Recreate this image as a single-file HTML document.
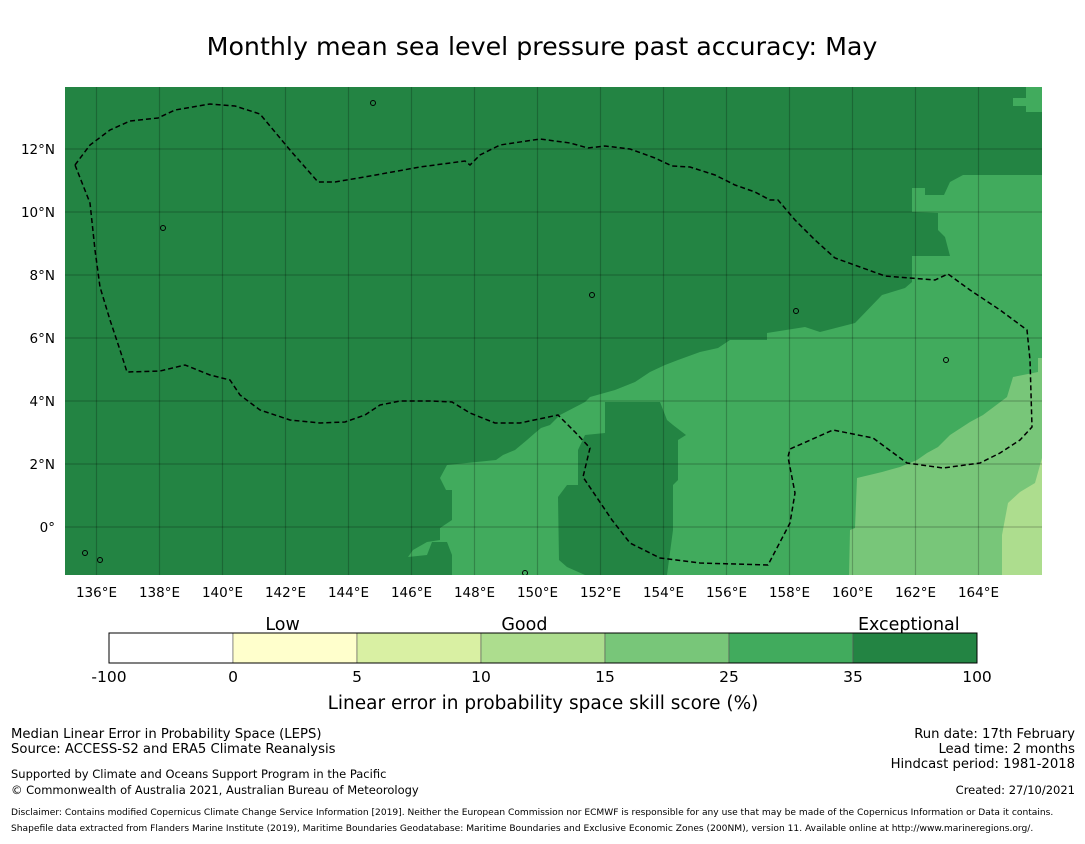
<!DOCTYPE html>
<html><head><meta charset="utf-8"><style>
body{margin:0;background:#fff;width:1085px;height:839px;overflow:hidden;font-family:"Liberation Sans","DejaVu Sans",sans-serif;}
svg text{font-family:"DejaVu Sans","Liberation Sans",sans-serif;}
</style></head><body>
<svg id="s" width="1085" height="839">
<text x="542" y="55" font-size="25.3" text-anchor="middle">Monthly mean sea level pressure past accuracy: May</text>
<g id="map"></g>
<g id="cb"></g>
<g font-size="13.2">
<text x="11" y="738">Median Linear Error in Probability Space (LEPS)</text>
<text x="11" y="753">Source: ACCESS-S2 and ERA5 Climate Reanalysis</text>
<text x="11" y="778" font-size="11.5">Supported by Climate and Oceans Support Program in the Pacific</text>
<text x="11" y="794" font-size="11.5">© Commonwealth of Australia 2021, Australian Bureau of Meteorology</text>
<text x="1075" y="738" text-anchor="end">Run date: 17th February</text>
<text x="1075" y="753" text-anchor="end">Lead time: 2 months</text>
<text x="1075" y="768" text-anchor="end">Hindcast period: 1981-2018</text>
<text x="1075" y="794" text-anchor="end" font-size="11.5">Created: 27/10/2021</text>
<text x="11" y="815" font-size="9.1">Disclaimer: Contains modified Copernicus Climate Change Service Information [2019]. Neither the European Commission nor ECMWF is responsible for any use that may be made of the Copernicus Information or Data it contains.</text>
<text x="11" y="831" font-size="9.1">Shapefile data extracted from Flanders Marine Institute (2019), Maritime Boundaries Geodatabase: Maritime Boundaries and Exclusive Economic Zones (200NM), version 11. Available online at http://www.marineregions.org/.</text>
</g>
</svg>
<script>
const lonTicks=[136,138,140,142,144,146,148,150,152,154,156,158,160,162,164];
const latTicks=[0,2,4,6,8,10,12];
const cbBounds=["-100","0","5","10","15","25","35","100"];
const cbColors=["#ffffff","#ffffcc","#d9f0a3","#addd8e","#78c679","#41ab5d","#238443"];
const cbCats=["Low","Good","Exceptional"];
const cbCatPos=[1.4,3.35,6.45];
const medTop=[[1013,98],[1013,106],[1026,106],[1026,112],[1042,112],[1042,87],[1026,87],[1026,98]];
const medMain=[[1042,175],[963,175],[950,182],[944,195],[925,195],[925,188],[912,188],[912,212],[938,213],[938,230],[945,237],[950,256],[912,256],[912,282],[905,288],[882,295],[855,323],[820,332],[805,327],[767,333],[767,340],[730,340],[718,348],[700,352],[678,360],[665,365],[650,372],[635,382],[615,390],[590,397],[585,402],[560,415],[550,425],[541,428],[535,433],[527,440],[515,450],[503,455],[496,460],[447,465],[440,478],[446,490],[452,490],[452,520],[440,528],[440,540],[427,542],[413,550],[408,557],[427,555],[432,542],[447,542],[452,555],[452,575],[1042,575]];
const darkBlock=[[610,402],[660,402],[667,420],[673,425],[686,435],[678,440],[678,480],[673,485],[673,530],[667,575],[585,575],[567,567],[559,560],[558,497],[567,485],[578,485],[578,450],[585,435],[605,433],[605,402]];
const light=[[1042,358],[1038,358],[1038,372],[1013,377],[1007,397],[983,415],[970,422],[950,435],[938,447],[927,453],[917,460],[900,467],[882,472],[857,478],[855,528],[850,530],[849,575],[1042,575]];
const lighter=[[1042,458],[1035,483],[1020,492],[1008,503],[1002,535],[1002,575],[1042,575]];
const eez=[[75,165],[90,145],[110,130],[130,121],[158,118],[175,110],[210,104],[235,106],[260,114],[290,150],[318,182],[335,182],[370,176],[420,167],[465,161],[470,165],[480,155],[500,145],[540,139],[570,143],[588,148],[605,146],[630,149],[655,158],[672,166],[690,167],[715,175],[735,185],[755,192],[770,200],[778,200],[795,220],[815,240],[835,258],[885,276],[935,280],[948,274],[970,290],[1000,310],[1027,330],[1030,360],[1032,427],[1020,440],[1000,453],[980,463],[943,468],[907,463],[873,438],[833,430],[790,449],[788,457],[795,493],[790,523],[768,565],[700,563],[660,558],[630,543],[612,520],[583,477],[590,448],[575,432],[558,415],[520,423],[495,423],[470,413],[452,402],[430,401],[400,401],[380,405],[365,415],[345,422],[320,423],[290,420],[260,410],[240,395],[230,380],[210,375],[185,365],[160,371],[127,372],[120,350],[110,320],[100,287],[95,250],[90,203],[75,165]];
const islands=[[163,228],[592,295],[796,311],[946,360],[373,103],[85,553],[100,560],[525,573]];
const NS='http://www.w3.org/2000/svg';
const X0=65,X1=1042,Y0=87,Y1=575;
const xs=lon=>X0+(lon-135)*31.5;
const ys=lat=>527-lat*31.5;
function mk(t,a,p){const e=document.createElementNS(NS,t);for(const k in a)e.setAttribute(k,a[k]);p.appendChild(e);return e;}
const map=document.getElementById('map');
const cp=mk('clipPath',{id:'cp'},map);mk('rect',{x:X0,y:Y0,width:X1-X0,height:Y1-Y0},cp);
const g=mk('g',{'clip-path':'url(#cp)'},map);
const bg=mk('rect',{x:X0,y:Y0,width:X1-X0,height:Y1-Y0,fill:'#238443'},g);


const P=a=>a.map(p=>p.join(',')).join(' ');
[[medTop,'#41ab5d','region-top-right'],[medMain,'#41ab5d','region-25-35'],[darkBlock,'#238443','region-chuuk-exceptional'],[light,'#78c679','region-15-25'],[lighter,'#addd8e','region-10-15']].forEach(r=>{
 const e=mk('polygon',{points:P(r[0]),fill:r[1]},g);
 
 
});
lonTicks.forEach(l=>{const e=mk('line',{x1:xs(l),x2:xs(l),y1:Y0,y2:Y1,stroke:'rgba(0,0,0,0.22)','stroke-width':1.2},g);
 
 
 const t=mk('text',{x:xs(l),y:597,'font-size':13.5,'text-anchor':'middle'},map);t.textContent=l+'°E';
 
 });
latTicks.forEach(l=>{const e=mk('line',{x1:X0,x2:X1,y1:ys(l),y2:ys(l),stroke:'rgba(0,0,0,0.22)','stroke-width':1.2},g);
 
 
 const t=mk('text',{x:55,y:ys(l)+5,'font-size':13.5,'text-anchor':'end'},map);t.textContent=l===0?'0°':l+'°N';
 
 });
const ez=mk('polygon',{points:P(eez),fill:'none',stroke:'#000','stroke-width':1.5,'stroke-dasharray':'5,3'},g);


islands.forEach(p=>{const e=mk('circle',{cx:p[0],cy:p[1],r:2.5,fill:'none',stroke:'#000','stroke-width':1},g);
 
 });
const cb=document.getElementById('cb');
const cx0=109,cw=124,cy=633,ch=30;
cbColors.forEach((c,i)=>{const e=mk('rect',{x:cx0+i*cw,y:cy,width:cw,height:ch,fill:c,stroke:'#555','stroke-width':0.6},cb);
 
 });
mk('rect',{x:cx0,y:cy,width:cw*cbColors.length,height:ch,fill:'none',stroke:'#000','stroke-width':1},cb);
cbBounds.forEach((b,i)=>{const t=mk('text',{x:cx0+i*cw,y:682,'font-size':15.5,'text-anchor':'middle'},cb);t.textContent=b;
 
 });
cbCats.forEach((c,i)=>{const t=mk('text',{x:cx0+cbCatPos[i]*cw,y:630,'font-size':17.5,'text-anchor':'middle'},cb);t.textContent=c;
 
 });
const lt=mk('text',{x:543,y:709,'font-size':18.5,'text-anchor':'middle'},cb);lt.textContent='Linear error in probability space skill score (%)';


</script>
</body></html>
